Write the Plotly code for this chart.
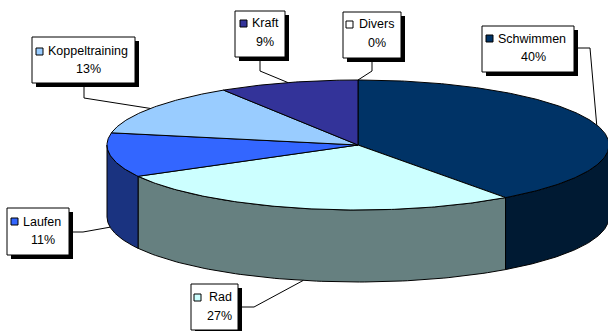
import numpy as np
import plotly.graph_objects as go

# ---- data ----
categories = ["Schwimmen", "Rad", "Laufen", "Koppeltraining", "Kraft", "Divers"]
values = [40, 27, 11, 13, 9, 0]
pct_labels = ["40%", "27%", "11%", "13%", "9%", "0%"]

# ---- style ----
top_colors = ["#003366", "#CCFFFF", "#3366FF", "#99CCFF", "#333399", "#FFFFFF"]
side_colors = ["#001A33", "#668080", "#1A3380", "#4D6680", "#1A1A4D", "#808080"]
W, H = 608, 331
CX, CY, RX, RY, DEPTH = 358, 145, 251, 65, 72
FONT = "Liberation Sans, Arial, sans-serif"
FS = 12.5

# label layout: box (x0,y0,x1,y1), key (x,y), name x-start, name y, pct x-center, pct y, elbow point
label_layout = {
    "Schwimmen":      dict(box=(482, 26, 574, 72), key=(486, 35), nx=497, ny=39, px=533, py=57, start=(574, 48), elbow=(590, 48)),
    "Rad":            dict(box=(191, 284, 238, 330), key=(194, 294), nx=208, ny=297, px=219, py=316, start=(238, 307), elbow=(254, 307)),
    "Laufen":         dict(box=(7, 208, 69, 255), key=(11, 218), nx=22, ny=222, px=43, py=240, start=(69, 232), elbow=(83, 232)),
    "Koppeltraining": dict(box=(32, 37, 135, 83), key=(36, 48), nx=47, ny=51, px=88, py=69, start=(84, 83), elbow=(84, 98)),
    "Kraft":          dict(box=(235, 11, 285, 57), key=(240, 20), nx=251, ny=23, px=265, py=42, start=(260, 57), elbow=(260, 71)),
    "Divers":         dict(box=(343, 12, 401, 58), key=(346, 21), nx=358, ny=24, px=377, py=43, start=(372, 58), elbow=(372, 71)),
}


def pt(theta_deg, dy=0.0):
    t = np.radians(theta_deg)
    return CX + RX * np.sin(t), CY - RY * np.cos(t) + dy


total = float(sum(values))
bounds = np.concatenate([[0.0], np.cumsum(values) / total * 360.0])

fig = go.Figure()

# side walls (front half: 90..270 deg clockwise from top)
for i, cat in enumerate(categories):
    a0, a1 = bounds[i], bounds[i + 1]
    lo, hi = max(a0, 90.0), min(a1, 270.0)
    if hi <= lo:
        continue
    th = np.linspace(lo, hi, 80)
    xt, yt = pt(th)
    xb, yb = pt(th[::-1], DEPTH)
    xs = np.concatenate([xt, xb, xt[:1]])
    ys = np.concatenate([yt, yb, yt[:1]])
    fig.add_trace(go.Scatter(x=xs, y=ys, mode="lines", fill="toself",
                             fillcolor=side_colors[i], line=dict(color="black", width=1),
                             hoverinfo="skip", showlegend=False))

# top faces
for i, cat in enumerate(categories):
    a0, a1 = bounds[i], bounds[i + 1]
    if a1 - a0 <= 0:
        continue
    th = np.linspace(a0, a1, max(int((a1 - a0) * 1.5), 4))
    xa, ya = pt(th)
    xs = np.concatenate([[CX], xa, [CX]])
    ys = np.concatenate([[CY], ya, [CY]])
    fig.add_trace(go.Scatter(x=xs, y=ys, mode="lines", fill="toself",
                             fillcolor=top_colors[i], line=dict(color="black", width=1),
                             hoverinfo="skip", showlegend=False))

shapes = []
annotations = []
for i, cat in enumerate(categories):
    L = label_layout[cat]
    mid = (bounds[i] + bounds[i + 1]) / 2.0
    ax, ay = pt(mid)
    if 90.0 < mid < 270.0:
        ay = ay + DEPTH
    # leader line
    fig.add_trace(go.Scatter(x=[L["start"][0], L["elbow"][0], ax], y=[L["start"][1], L["elbow"][1], ay],
                             mode="lines", line=dict(color="black", width=1),
                             hoverinfo="skip", showlegend=False))
    x0, y0, x1, y1 = L["box"]
    shapes.append(dict(type="rect", xref="x", yref="y", x0=x0 + 4, y0=y0 + 4, x1=x1 + 4, y1=y1 + 4,
                       fillcolor="black", line=dict(width=0), layer="above"))
    shapes.append(dict(type="rect", xref="x", yref="y", x0=x0, y0=y0, x1=x1, y1=y1,
                       fillcolor="white", line=dict(color="black", width=1), layer="above"))
    kx, ky = L["key"]
    shapes.append(dict(type="rect", xref="x", yref="y", x0=kx, y0=ky, x1=kx + 7, y1=ky + 7,
                       fillcolor=top_colors[i], line=dict(color="black", width=1), layer="above"))
    annotations.append(dict(x=L["nx"], y=L["ny"], xref="x", yref="y", text=cat, showarrow=False,
                            xanchor="left", yanchor="middle", borderpad=0,
                            font=dict(family=FONT, size=FS, color="black")))
    annotations.append(dict(x=L["px"], y=L["py"], xref="x", yref="y", text=pct_labels[i], showarrow=False,
                            xanchor="center", yanchor="middle", borderpad=0,
                            font=dict(family=FONT, size=FS, color="black")))

fig.update_layout(
    width=W, height=H, autosize=False,
    margin=dict(l=0, r=0, t=0, b=0),
    paper_bgcolor="white", plot_bgcolor="white",
    xaxis=dict(range=[0, W], visible=False, fixedrange=True),
    yaxis=dict(range=[H, 0], visible=False, fixedrange=True),
    shapes=shapes, annotations=annotations,
    showlegend=False,
)

fig.write_html("out.html", config={"displayModeBar": False})
